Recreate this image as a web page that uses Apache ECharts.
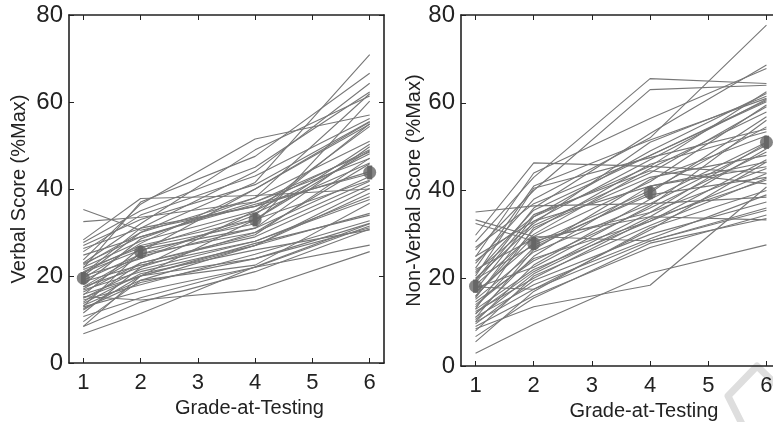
<!DOCTYPE html>
<html>
<head>
<meta charset="utf-8">
<script src="https://cdn.jsdelivr.net/npm/echarts@6/dist/echarts.min.js"></script>
<style>
  html, body { margin: 0; padding: 0; background: #fff; }
  #chart { width: 773px; height: 422px; }
</style>
</head>
<body>
<div id="chart"></div>
<script>
// Testing grades (x positions of each measurement)
const grades = [1, 2, 4, 6];
const gradeTicks = [1, 2, 3, 4, 5, 6];
const scoreTicks = [0, 20, 40, 60, 80];

// Individual children: verbal score (%Max) at grades 1, 2, 4, 6
const verbalScores = [
  [35.3, 30.5, 36.0, 44.0], [32.5, 33.5, 37.0, 47.0], [28.3, 37.8, 38.5, 40.0],
  [27.7, 35.0, 45.0, 62.3], [27.0, 33.0, 41.0, 55.5], [26.3, 31.0, 36.0, 49.0],
  [25.6, 34.0, 43.0, 56.2], [24.8, 29.0, 37.0, 48.5], [23.7, 36.5, 51.5, 57.0],
  [23.0, 32.0, 49.0, 61.4], [22.5, 30.0, 41.5, 70.9], [22.0, 28.0, 35.0, 54.4],
  [21.8, 37.0, 47.5, 66.6], [21.0, 27.0, 33.0, 50.3], [20.8, 26.0, 31.0, 42.9],
  [20.5, 31.0, 44.0, 64.3], [20.0, 24.0, 34.0, 55.0], [19.5, 27.5, 40.0, 55.4],
  [19.0, 25.0, 30.0, 41.8], [18.7, 22.5, 28.0, 38.2], [18.0, 28.5, 38.0, 51.0],
  [17.5, 22.0, 30.0, 45.8], [17.0, 24.5, 31.0, 49.7], [16.8, 21.0, 27.0, 34.4],
  [16.3, 23.0, 29.0, 40.9], [15.8, 20.0, 27.5, 34.0], [15.6, 26.5, 32.0, 60.2],
  [15.3, 14.5, 16.8, 25.6], [15.0, 20.0, 24.0, 31.1], [14.9, 21.5, 28.0, 37.6],
  [14.5, 18.0, 25.0, 32.7], [14.0, 23.0, 29.5, 47.1], [13.7, 20.5, 26.0, 30.6],
  [13.2, 19.0, 22.5, 36.7], [12.9, 16.5, 22.0, 27.1], [12.5, 18.5, 24.0, 32.1],
  [12.2, 20.0, 27.0, 39.0], [11.5, 22.0, 35.0, 48.1], [10.7, 15.0, 22.0, 31.5],
  [9.5, 19.0, 27.0, 40.1], [8.4, 20.0, 33.0, 42.0], [8.4, 14.0, 21.0, 30.8],
  [6.7, 11.4, 22.1, 32.0], [13.0, 25.5, 40.0, 54.9], [20.0, 30.0, 38.0, 61.9],
  [17.5, 25.0, 33.0, 48.8], [22.8, 29.0, 36.5, 43.5], [21.5, 26.5, 34.5, 46.0]
];

// Individual children: non-verbal score (%Max) at grades 1, 2, 4, 6
const nonVerbalScores = [
  [35.1, 36.5, 37.0, 38.5], [33.3, 29.5, 28.5, 35.5], [32.5, 28.5, 35.0, 45.0],
  [29.8, 46.3, 45.5, 44.0], [28.3, 43.0, 65.5, 64.4], [26.4, 40.0, 63.0, 64.0],
  [24.9, 44.0, 56.4, 67.8], [23.4, 38.0, 52.0, 77.7], [22.3, 41.0, 51.5, 61.0],
  [21.1, 35.5, 48.0, 60.2], [20.0, 32.0, 44.0, 59.1], [19.5, 36.0, 53.0, 68.6],
  [18.5, 30.0, 45.0, 57.9], [18.0, 17.5, 31.0, 46.5], [17.3, 34.0, 49.0, 62.1],
  [16.8, 28.0, 40.0, 54.5], [15.8, 31.0, 46.0, 53.4], [15.2, 26.0, 37.0, 50.3],
  [14.6, 24.0, 36.0, 48.8], [13.5, 27.0, 39.5, 56.8], [12.9, 22.0, 33.0, 43.9],
  [12.4, 20.0, 33.5, 42.4], [11.8, 25.0, 41.0, 45.4], [11.2, 18.5, 29.0, 39.0],
  [10.6, 21.0, 34.0, 49.5], [10.1, 23.0, 38.0, 51.0], [9.6, 19.5, 30.0, 37.4],
  [9.0, 16.0, 27.0, 34.4], [8.5, 13.5, 18.4, 40.8], [6.7, 15.5, 28.0, 33.6],
  [5.5, 17.0, 31.5, 40.0], [2.9, 9.5, 21.2, 27.6], [25.0, 33.0, 41.0, 46.5],
  [22.0, 29.0, 34.0, 33.3], [27.0, 37.0, 48.0, 60.5], [20.5, 40.5, 47.5, 54.0],
  [19.0, 34.5, 44.5, 41.5], [16.0, 29.5, 42.0, 59.5], [14.0, 24.5, 33.0, 47.0],
  [13.0, 31.5, 43.0, 48.0], [24.0, 34.0, 45.5, 62.5], [17.8, 22.5, 36.5, 56.0],
  [11.0, 26.5, 42.5, 52.5], [8.0, 20.5, 32.0, 42.8], [21.5, 32.5, 51.0, 61.5],
  [19.8, 27.5, 39.0, 43.0], [15.5, 33.0, 47.0, 60.8], [12.0, 21.5, 35.0, 50.8],
  [10.0, 17.5, 28.5, 36.0]
];

// Group means and their error half-widths
const verbalMean = [19.5, 25.5, 33.0, 43.8];
const verbalErr = [1.4, 1.4, 1.6, 1.6];
const nonVerbalMean = [18.2, 27.9, 39.5, 51.0];
const nonVerbalErr = [1.5, 1.5, 1.5, 1.5];

const TEXT = '#222';
const FONT = 'Liberation Sans, Arial, sans-serif';
const LINE = '#777';
const MEAN = '#666';

function xAxisPair(gridIndex, nameShift, nameGap) {
  const base = {
    gridIndex: gridIndex, type: 'value', min: 0.75, max: 6.25, interval: 0.25,
    axisLine: { show: true, onZero: false, lineStyle: { color: TEXT, width: 1.6 } },
    axisTick: { show: true, inside: true, length: 5, lineStyle: { color: TEXT, width: 1 },
      customValues: gradeTicks },
    splitLine: { show: false }
  };
  return [
    Object.assign({}, base, {
      position: 'bottom',
      axisLabel: { show: true, customValues: gradeTicks, color: TEXT, fontSize: 22,
        fontFamily: FONT, margin: 9 },
      name: 'Grade-at-Testing', nameLocation: 'middle', nameGap: nameGap,
      nameTextStyle: { color: TEXT, fontSize: 20, fontFamily: FONT,
        padding: [0, 0, 0, nameShift] }
    }),
    Object.assign({}, base, { position: 'top', axisLabel: { show: false } })
  ];
}

function yAxisPair(gridIndex, name, gap) {
  const base = {
    gridIndex: gridIndex, type: 'value', min: 0, max: 80, interval: 20,
    axisLine: { show: true, onZero: false, lineStyle: { color: TEXT, width: 1.6 } },
    axisTick: { show: true, inside: true, length: 5, lineStyle: { color: TEXT, width: 1 } },
    splitLine: { show: false }
  };
  return [
    Object.assign({}, base, {
      position: 'left',
      axisLabel: { show: true, color: TEXT, fontSize: 24, fontFamily: FONT, margin: 6 },
      name: name, nameLocation: 'middle', nameGap: gap, nameRotate: 90,
      nameTextStyle: { color: TEXT, fontSize: 20, fontFamily: FONT }
    }),
    Object.assign({}, base, { position: 'right', axisLabel: { show: false } })
  ];
}

function childSeries(scores, axisIdx) {
  return scores.map(row => ({
    type: 'line', xAxisIndex: axisIdx, yAxisIndex: axisIdx,
    data: row.map((v, i) => [grades[i], v]),
    symbol: 'none', silent: true, animation: false, z: 2,
    lineStyle: { color: LINE, width: 1.1 }
  }));
}

function meanSeries(means, errs, axisIdx) {
  return [
    {
      type: 'custom', xAxisIndex: axisIdx, yAxisIndex: axisIdx, z: 5, silent: true,
      animation: false,
      data: means.map((m, i) => [grades[i], m - errs[i], m + errs[i]]),
      renderItem: function (params, api) {
        const lo = api.coord([api.value(0), api.value(1)]);
        const hi = api.coord([api.value(0), api.value(2)]);
        return {
          type: 'line',
          shape: { x1: lo[0], y1: lo[1], x2: hi[0], y2: hi[1] },
          style: { stroke: MEAN, lineWidth: 5 }
        };
      }
    },
    {
      type: 'scatter', xAxisIndex: axisIdx, yAxisIndex: axisIdx, z: 6, silent: true,
      animation: false, symbol: 'circle', symbolSize: 13,
      itemStyle: { color: MEAN },
      data: means.map((m, i) => [grades[i], m])
    }
  ];
}

const chart = echarts.init(document.getElementById('chart'), null, { renderer: 'canvas' });

const xAxes = [].concat(xAxisPair(0, 46, 35), xAxisPair(1, 46, 33));
const yAxes = [].concat(yAxisPair(0, 'Verbal Score (%Max)', 40),
                        yAxisPair(1, 'Non-Verbal Score (%Max)', 36));
// pairs are [main, mirror]; series use the main axis of each grid
const series = [].concat(
  childSeries(verbalScores, 0),
  meanSeries(verbalMean, verbalErr, 0),
  childSeries(nonVerbalScores, 2),
  meanSeries(nonVerbalMean, nonVerbalErr, 2)
);

chart.setOption({
  backgroundColor: '#fff',
  animation: false,
  grid: [
    { left: 69, top: 15, width: 315, height: 348, outerBoundsMode: 'none', containLabel: false },
    { left: 461, top: 15, width: 320, height: 351, outerBoundsMode: 'none', containLabel: false }
  ],
  xAxis: xAxes,
  yAxis: yAxes,
  series: series,
  graphic: [
    {
      type: 'polyline', z: 0, silent: true,
      shape: { points: [[745, 430], [728, 396], [757, 366], [792, 400]] },
      style: { stroke: '#dedede', lineWidth: 7, fill: null, lineJoin: 'round' }
    }
  ]
});
</script>
</body>
</html>
